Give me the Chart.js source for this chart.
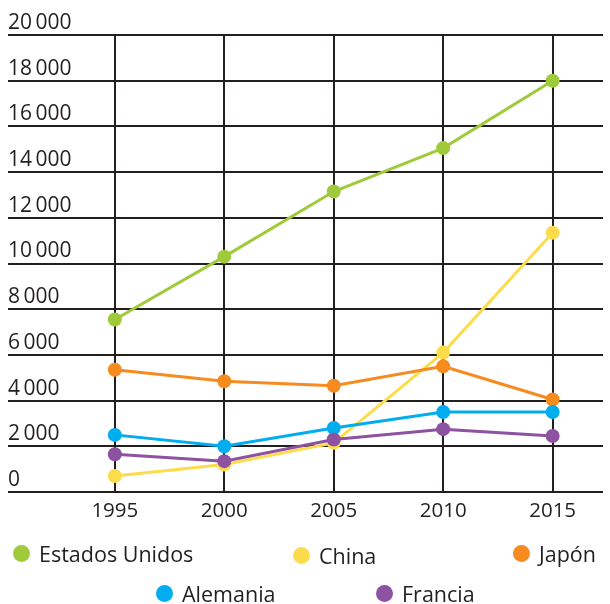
<!DOCTYPE html>
<html>
<head>
<meta charset="utf-8">
<script src="https://cdn.jsdelivr.net/npm/chart.js@4/dist/chart.umd.min.js"></script>
<style>
  html, body { margin: 0; padding: 0; background: #fff; }
  #wrap { position: relative; width: 610px; height: 604px; }
  #chart { position: absolute; left: 0; top: 0; }
  .leg { position: absolute; display: flex; align-items: center; font-family: "Open Sans", sans-serif; font-size: 21.5px; color: #231f20; white-space: nowrap; }
  .leg i { display: inline-block; width: 17px; height: 17px; border-radius: 50%; margin-right: 9px; }
</style>
</head>
<body>
<div id="wrap">
  <canvas id="chart" width="610" height="604"></canvas>
  <div id="legend"></div>
</div>
<script>
// ============================================================
//  DATA
// ============================================================
const years    = [1995, 2000, 2005, 2010, 2015];
const yTicks   = [0, 2000, 4000, 6000, 8000, 10000, 12000, 14000, 16000, 18000, 20000];

const usa      = [7550, 10300, 13150, 15050, 18000];
const china    = [700, 1200, 2150, 6100, 11350];
const japan    = [5350, 4850, 4650, 5500, 4050];
const germany  = [2500, 2000, 2800, 3500, 3500];
const france   = [1650, 1350, 2300, 2750, 2450];

const names    = ['Estados Unidos', 'China', 'Japón', 'Alemania', 'Francia'];
const colors   = ['#9fcb3b', '#fddc4b', '#f68b1f', '#00aeef', '#8d52a1'];

// legend slots (left of marker, row centre)
const legendPos = [[13, 553], [293, 555], [513, 553], [156, 593], [376, 593]];

const INK = '#231f20';

function fmt(v) {
    return String(v).replace(/\B(?=(\d{3})+(?!\d))/g, '\u2009');
}

function series(label, values, color, order) {
    return {
        label: label,
        data: years.map((y, i) => ({ x: y, y: values[i] })),
        borderColor: color,
        backgroundColor: color,
        pointBackgroundColor: color,
        pointBorderWidth: 0,
        pointRadius: 7,
        borderWidth: 3,
        order: order,
        tension: 0
    };
}

new Chart(document.getElementById('chart'), {
    type: 'line',
    data: {
        datasets: [
            series(names[0], usa,     colors[0], 1),
            series(names[1], china,   colors[1], 5),
            series(names[2], japan,   colors[2], 4),
            series(names[3], germany, colors[3], 3),
            series(names[4], france,  colors[4], 2)
        ]
    },
    options: {
        responsive: false,
        animation: false,
        events: [],
        layout: { padding: { left: 8, top: 35, right: 0, bottom: 0 } },
        plugins: { legend: { display: false }, tooltip: { enabled: false } },
        scales: {
            x: {
                type: 'linear',
                min: 1990.12,
                max: 2017.3,
                afterBuildTicks: s => { s.ticks = years.map(v => ({ value: v })); },
                afterFit: s => { s.height = 112; },
                border: { display: false },
                grid: { color: INK, lineWidth: 2, drawTicks: false },
                ticks: {
                    color: INK,
                    padding: 7,
                    font: { family: 'Open Sans', size: 20.5 },
                    callback: v => String(v)
                }
            },
            y: {
                min: 0,
                max: 20000,
                afterBuildTicks: s => { s.ticks = yTicks.map(v => ({ value: v })); },
                afterFit: s => { s.width = 0; },
                border: { display: false },
                grid: { color: INK, lineWidth: 2, drawTicks: false },
                ticks: {
                    mirror: true,
                    padding: 0,
                    labelOffset: -12,
                    color: INK,
                    font: { family: 'Open Sans', size: 21 },
                    callback: v => fmt(v)
                }
            }
        }
    }
});

// ============================================================
//  LEGEND
// ============================================================
const html = names.map(function (n, i) {
    const p = legendPos[i];
    return '<div class="leg" style="left:' + p[0] + 'px;top:' + (p[1] - 13) + 'px;height:26px">' +
        '<i style="background:' + colors[i] + '"></i>' + n + '</div>';
}).join('');
document.getElementById('legend').innerHTML = html;
</script>
</body>
</html>
